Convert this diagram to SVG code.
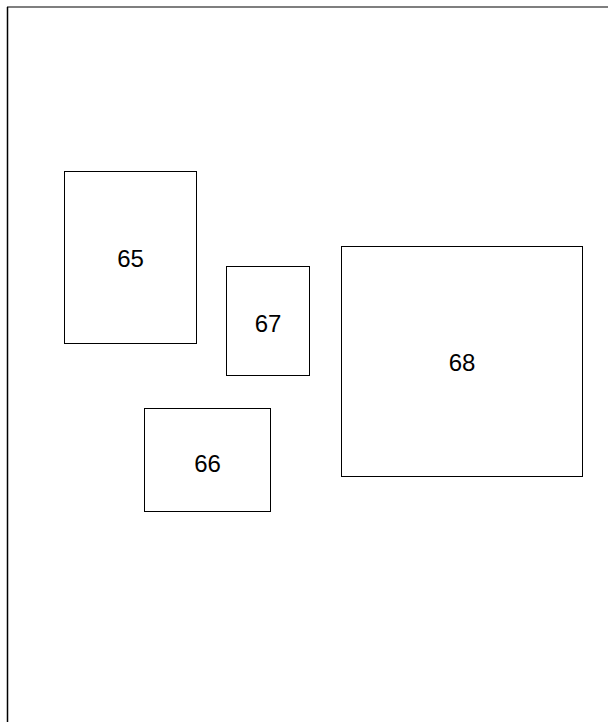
<svg xmlns="http://www.w3.org/2000/svg" width="608" height="722" viewBox="0 0 608 722">
<style>
.n rect{fill:#fff;stroke:#000;stroke-width:1}
.n text{font-family:"Liberation Sans",Arial,sans-serif;font-size:24px;fill:#000;text-anchor:middle;dominant-baseline:central}
.frame{stroke:#000;fill:none}
</style>
<rect width="608" height="722" fill="#fff"/>
<g id="frame">
<line class="frame" x1="7" y1="7" x2="608" y2="7" stroke-width="1.2"/>
<line class="frame" x1="7.5" y1="7" x2="7.5" y2="722" stroke="#555" stroke-width="1.5"/>
</g>
<g id="connectors"></g>
<g id="n65" class="n"><rect x="64.5" y="171.5" width="132" height="172"/><text x="130.5" y="258">65</text></g>
<g id="n67" class="n"><rect x="226.5" y="266.5" width="83" height="109"/><text x="268" y="323">67</text></g>
<g id="n68" class="n"><rect x="341.5" y="246.5" width="241" height="230"/><text x="462" y="362">68</text></g>
<g id="n66" class="n"><rect x="144.5" y="408.5" width="126" height="103"/><text x="207.5" y="463">66</text></g>
</svg>
